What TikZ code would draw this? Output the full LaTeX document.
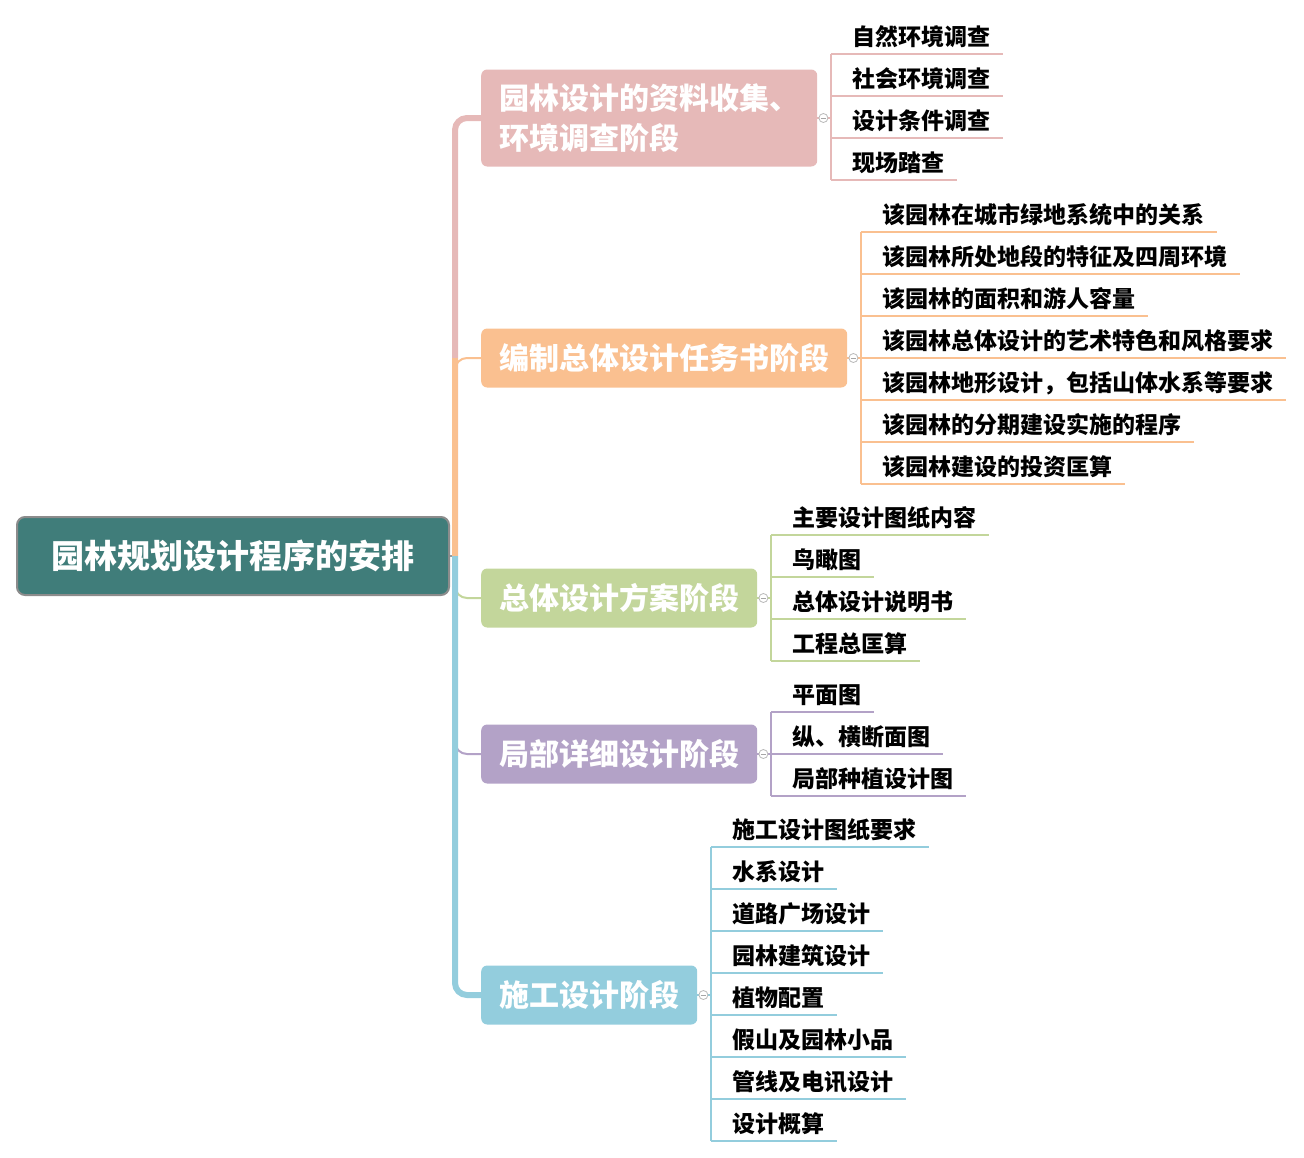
\documentclass[tikz,border=0pt]{standalone}
\usepackage{fontspec}
\setmainfont{Noto Sans CJK SC}
\usetikzlibrary{positioning}

\definecolor{rootteal}{HTML}{407D7A}
\definecolor{stagepink}{HTML}{E6B9B8}
\definecolor{stageorange}{HTML}{FAC090}
\definecolor{stagegreen}{HTML}{C3D69B}
\definecolor{stagepurple}{HTML}{B3A2C7}
\definecolor{stageblue}{HTML}{93CDDD}

\begin{document}
\begin{tikzpicture}[
  x=1pt, y=-1pt,
  root/.style={draw=gray!90, line width=2pt, fill=rootteal, rounded corners=8pt, text=white,
    font=\bfseries\fontsize{33}{40}\selectfont, minimum width=432pt, minimum height=78pt, anchor=west},
  stage/.style={fill=#1, rounded corners=6pt, text=white, font=\bfseries\fontsize{30}{40}\selectfont,
    inner xsep=18pt, minimum height=59pt, anchor=west, align=left},
  leaf/.style={anchor=south west, inner sep=0pt, text height=18pt, text depth=8pt,
    font=\bfseries\fontsize{23}{26}\selectfont,
    execute at begin node=\hspace*{21pt}, execute at end node=\hspace*{13pt}},
  trunk/.style={line width=6pt, rounded corners=12pt},
  twig/.style={line width=2pt, rounded corners=12pt},
  underline/.style={line width=2pt},
  fold/.style={circle, draw=gray!55, fill=white, line width=0.8pt, inner sep=0pt, minimum size=9pt,
    path picture={\draw[gray!70, line width=0.8pt] ([xshift=-2.5pt]path picture bounding box.center)
      -- ([xshift=2.5pt]path picture bounding box.center);}},
]
\useasboundingbox (0,0) rectangle (1304,1157);

% ===== Root and stages =====
\node[root] (root) at (16,556) {园林规划设计程序的安排};
\coordinate (hub) at (455,556);

\node[stage=stagepink, minimum height=97pt] (s1) at (481,118) {园林设计的资料收集、\\环境调查阶段};
\node[stage=stageorange] (s2) at (481,358) {编制总体设计任务书阶段};
\node[stage=stagegreen] (s3) at (481,598) {总体设计方案阶段};
\node[stage=stagepurple] (s4) at (481,754) {局部详细设计阶段};
\node[stage=stageblue] (s5) at (481,995) {施工设计阶段};

% Trunk: thin bends first, thick runs on top
\draw[gray!80, line width=1.5pt] (root.east) -- (hub);
\draw[trunk, stagepink] (hub) |- (s1.west);
\draw[twig, stageorange] (hub) |- (s2.west);
\draw[twig, stagegreen] (hub) |- (s3.west);
\draw[twig, stagepurple] (hub) |- (s4.west);
\draw[trunk, stageblue] (hub) |- (s5.west);
\draw[trunk, stageorange] (hub) -- (455,358);

% ===== Leaves per stage =====
\foreach \txt [count=\i] in {自然环境调查,社会环境调查,设计条件调查,现场踏查}
{ \node[leaf] (l1-\i) at (831, {54+42*(\i-1)}) {\txt};
  \draw[underline, stagepink] (l1-\i.south west) -- (l1-\i.south east); }
\draw[underline, stagepink] (l1-1.south west) -- (l1-4.south west);
\draw[underline, stagepink] (s1.east) -- (s1.east -| l1-1.south west);
\node[fold] (f1) at ([xshift=6pt]s1.east) {};

\foreach \txt [count=\i] in {该园林在城市绿地系统中的关系,该园林所处地段的特征及四周环境,
  该园林的面积和游人容量,该园林总体设计的艺术特色和风格要求,该园林地形设计，包括山体水系等要求,
  该园林的分期建设实施的程序,该园林建设的投资匡算}
{ \node[leaf] (l2-\i) at (861, {232+42*(\i-1)}) {\txt};
  \draw[underline, stageorange] (l2-\i.south west) -- (l2-\i.south east); }
\draw[underline, stageorange] (l2-1.south west) -- (l2-7.south west);
\draw[underline, stageorange] (s2.east) -- (s2.east -| l2-1.south west);
\node[fold] (f2) at ([xshift=6pt]s2.east) {};

\foreach \txt [count=\i] in {主要设计图纸内容,鸟瞰图,总体设计说明书,工程总匡算}
{ \node[leaf] (l3-\i) at (771, {535+42*(\i-1)}) {\txt};
  \draw[underline, stagegreen] (l3-\i.south west) -- (l3-\i.south east); }
\draw[underline, stagegreen] (l3-1.south west) -- (l3-4.south west);
\draw[underline, stagegreen] (s3.east) -- (s3.east -| l3-1.south west);
\node[fold] (f3) at ([xshift=6pt]s3.east) {};

\foreach \txt [count=\i] in {平面图,纵、横断面图,局部种植设计图}
{ \node[leaf] (l4-\i) at (771, {712+42*(\i-1)}) {\txt};
  \draw[underline, stagepurple] (l4-\i.south west) -- (l4-\i.south east); }
\draw[underline, stagepurple] (l4-1.south west) -- (l4-3.south west);
\draw[underline, stagepurple] (s4.east) -- (s4.east -| l4-1.south west);
\node[fold] (f4) at ([xshift=6pt]s4.east) {};

\foreach \txt [count=\i] in {施工设计图纸要求,水系设计,道路广场设计,园林建筑设计,植物配置,
  假山及园林小品,管线及电讯设计,设计概算}
{ \node[leaf] (l5-\i) at (711, {847+42*(\i-1)}) {\txt};
  \draw[underline, stageblue] (l5-\i.south west) -- (l5-\i.south east); }
\draw[underline, stageblue] (l5-1.south west) -- (l5-8.south west);
\draw[underline, stageblue] (s5.east) -- (s5.east -| l5-1.south west);
\node[fold] (f5) at ([xshift=6pt]s5.east) {};

\end{tikzpicture}
\end{document}
